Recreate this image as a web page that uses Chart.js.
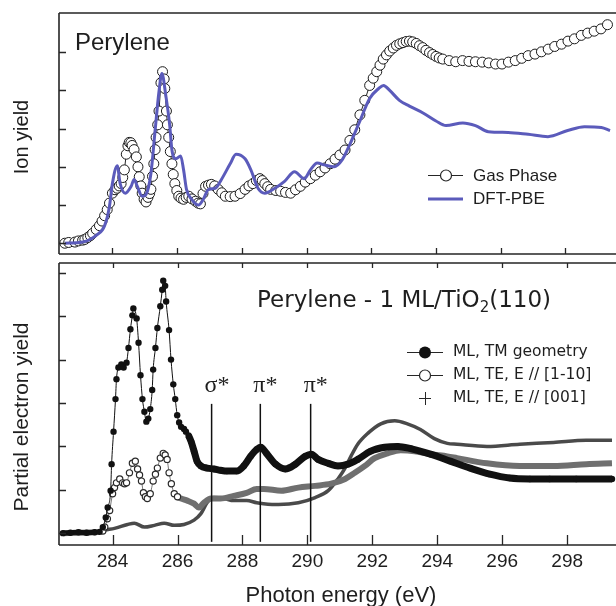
<!DOCTYPE html>
<html>
<head>
<meta charset="utf-8">
<script src="https://cdn.jsdelivr.net/npm/chart.js@4.4.1/dist/chart.umd.min.js"></script>
<style>
  html, body { margin: 0; padding: 0; background: #fff; }
  #wrap { position: relative; width: 616px; height: 606px; overflow: hidden; background: #fff; }
  #topChart { position: absolute; left: 0; top: 0; }
  #botChart { position: absolute; left: 0; top: 259px; }
</style>
</head>
<body>
<div id="wrap">
  <canvas id="topChart" width="640" height="260"></canvas>
  <canvas id="botChart" width="640" height="347"></canvas>
</div>
<script>
// 공통 축 눈금
const energyTicks = [284, 286, 288, 290, 292, 294, 296, 298];
const ionTicks = [0, 1, 2, 3, 4, 5];
const peyTicks = [0, 1, 2, 3, 4, 5, 6];

// 위 패널: 기체상 이온 수율
const gasEnergy = [282.53, 282.65, 282.84, 282.95, 283.08, 283.15, 283.24, 283.32, 283.39, 283.5, 283.6, 283.68, 283.76, 283.84, 283.91, 284.0, 284.08, 284.15, 284.21, 284.27, 284.32, 284.37, 284.43, 284.48, 284.52, 284.57, 284.61, 284.67, 284.74, 284.79, 284.83, 284.88, 284.92, 284.98, 285.04, 285.1, 285.15, 285.19, 285.24, 285.28, 285.32, 285.35, 285.4, 285.44, 285.5, 285.55, 285.6, 285.62, 285.67, 285.7, 285.74, 285.79, 285.84, 285.88, 285.93, 285.99, 286.05, 286.12, 286.2, 286.28, 286.36, 286.46, 286.57, 286.65, 286.72, 286.8, 286.88, 286.97, 287.06, 287.16, 287.27, 287.38, 287.49, 287.64, 287.79, 287.95, 288.1, 288.22, 288.34, 288.45, 288.56, 288.63, 288.71, 288.8, 288.89, 289.05, 289.2, 289.35, 289.51, 289.66, 289.81, 289.96, 290.12, 290.27, 290.42, 290.57, 290.73, 290.88, 291.03, 291.19, 291.34, 291.49, 291.65, 291.8, 291.95, 292.06, 292.17, 292.27, 292.37, 292.47, 292.57, 292.68, 292.78, 292.88, 292.98, 293.08, 293.18, 293.28, 293.39, 293.49, 293.59, 293.69, 293.8, 293.9, 294.0, 294.1, 294.21, 294.41, 294.61, 294.82, 295.02, 295.22, 295.43, 295.63, 295.84, 296.04, 296.24, 296.45, 296.65, 296.85, 297.06, 297.26, 297.47, 297.67, 297.88, 298.08, 298.28, 298.49, 298.69, 298.89, 299.1, 299.3];
const gasYield = [0, 0.02, 0.03, 0.06, 0.08, 0.1, 0.15, 0.2, 0.26, 0.36, 0.46, 0.58, 0.72, 0.88, 1.05, 1.31, 1.4, 1.44, 1.5, 1.56, 1.72, 1.92, 2.33, 2.55, 2.64, 2.63, 2.56, 2.45, 2.26, 2.0, 1.74, 1.5, 1.31, 1.15, 1.08, 1.2, 1.3, 1.41, 1.75, 2.08, 2.45, 2.77, 3.1, 3.46, 4.2, 4.49, 4.3, 4.05, 3.46, 3.1, 2.77, 2.4, 2.08, 1.8, 1.56, 1.38, 1.23, 1.18, 1.15, 1.2, 1.23, 1.16, 1.1, 1.05, 1.03, 1.3, 1.49, 1.52, 1.54, 1.5, 1.41, 1.32, 1.23, 1.22, 1.23, 1.3, 1.41, 1.5, 1.56, 1.64, 1.69, 1.64, 1.56, 1.48, 1.41, 1.38, 1.36, 1.33, 1.31, 1.4, 1.49, 1.6, 1.69, 1.78, 1.87, 1.97, 2.08, 2.2, 2.31, 2.44, 2.69, 2.97, 3.36, 3.74, 4.13, 4.32, 4.49, 4.66, 4.82, 4.93, 5.03, 5.11, 5.18, 5.22, 5.25, 5.28, 5.29, 5.27, 5.23, 5.17, 5.12, 5.05, 4.99, 4.94, 4.89, 4.85, 4.82, 4.78, 4.75, 4.78, 4.76, 4.75, 4.74, 4.72, 4.69, 4.69, 4.74, 4.78, 4.84, 4.91, 4.95, 5.01, 5.08, 5.15, 5.21, 5.29, 5.35, 5.44, 5.5, 5.55, 5.61, 5.72];

// 위 패널: DFT-PBE 계산
const dftEnergy = [282.53, 283.08, 283.51, 283.76, 283.91, 284.0, 284.15, 284.24, 284.4, 284.58, 284.67, 284.77, 284.92, 285.04, 285.19, 285.32, 285.44, 285.53, 285.65, 285.77, 285.84, 285.96, 286.11, 286.2, 286.29, 286.45, 286.66, 286.81, 286.97, 287.18, 287.37, 287.64, 287.82, 288.1, 288.28, 288.5, 288.71, 289.02, 289.32, 289.63, 289.93, 290.12, 290.33, 290.55, 290.85, 291.1, 291.34, 291.65, 291.95, 292.23, 292.38, 292.57, 292.87, 293.18, 293.6, 294.0, 294.31, 294.83, 295.22, 295.62, 296.23, 296.85, 297.46, 298.07, 298.59, 299.11, 299.38];
const dftYield = [0, 0.03, 0.21, 0.46, 0.97, 1.56, 2.03, 1.56, 1.31, 1.49, 1.67, 1.49, 1.23, 1.28, 1.82, 2.95, 3.97, 4.44, 3.87, 3.1, 2.44, 2.21, 2.28, 1.92, 1.41, 1.15, 1.0, 1.15, 1.41, 1.44, 1.67, 2.08, 2.33, 2.21, 1.92, 1.44, 1.31, 1.44, 1.62, 1.87, 1.69, 1.92, 2.1, 2.05, 2.0, 2.18, 2.59, 3.2, 3.79, 4.05, 4.13, 4.0, 3.74, 3.59, 3.41, 3.2, 3.08, 3.15, 3.08, 2.92, 2.9, 2.85, 2.79, 2.95, 3.05, 3.03, 2.95];

// 아래 패널: ML, TM geometry
const tmEnergy = [282.47, 282.7, 282.95, 283.2, 283.45, 283.6, 283.7, 283.79, 283.85, 283.94, 283.97, 284.03, 284.09, 284.12, 284.18, 284.27, 284.34, 284.43, 284.49, 284.55, 284.61, 284.64, 284.74, 284.8, 284.86, 284.92, 284.98, 285.04, 285.1, 285.16, 285.22, 285.25, 285.32, 285.38, 285.47, 285.53, 285.56, 285.62, 285.65, 285.74, 285.8, 285.87, 285.93, 285.99, 286.05, 286.11, 286.2, 286.26, 286.34, 286.42, 286.51, 286.6, 286.72, 286.91, 287.12, 287.32, 287.52, 287.82, 288.04, 288.25, 288.44, 288.56, 288.74, 289.02, 289.32, 289.63, 289.93, 290.12, 290.33, 290.64, 290.94, 291.25, 291.55, 291.95, 292.38, 292.78, 293.18, 293.79, 294.4, 295.01, 295.62, 296.23, 296.85, 297.46, 298.28, 299.38];
const tmYield = [0, 0.01, 0.02, 0.01, 0.02, 0.03, 0.14, 0.36, 0.59, 0.98, 1.59, 2.34, 3.09, 3.55, 3.82, 3.89, 3.82, 3.93, 4.27, 4.7, 5.02, 5.18, 4.95, 4.39, 3.64, 3.09, 2.8, 2.57, 2.64, 2.86, 3.3, 3.77, 4.27, 4.73, 5.23, 5.61, 5.82, 5.7, 5.34, 4.68, 4.0, 3.43, 3.09, 2.72, 2.55, 2.45, 2.4, 2.34, 2.25, 2.11, 1.89, 1.66, 1.55, 1.5, 1.48, 1.45, 1.43, 1.43, 1.55, 1.77, 1.93, 1.98, 1.84, 1.59, 1.48, 1.59, 1.77, 1.82, 1.7, 1.61, 1.55, 1.59, 1.7, 1.89, 1.98, 2.0, 1.95, 1.82, 1.66, 1.5, 1.36, 1.27, 1.25, 1.25, 1.25, 1.25];

// 아래 패널: ML, TE, E // [1-10]
const te110Energy = [282.47, 283.0, 283.5, 283.7, 283.76, 283.84, 283.91, 284.0, 284.06, 284.12, 284.22, 284.31, 284.37, 284.43, 284.52, 284.61, 284.7, 284.77, 284.83, 284.89, 284.95, 285.01, 285.07, 285.16, 285.25, 285.32, 285.38, 285.47, 285.56, 285.62, 285.68, 285.74, 285.81, 285.9, 286.0, 286.11, 286.3, 286.51, 286.66, 286.81, 287.03, 287.33, 287.73, 288.13, 288.44, 288.65, 289.2, 289.72, 290.24, 290.73, 291.16, 291.46, 291.77, 292.07, 292.47, 292.87, 293.3, 293.79, 294.31, 294.61, 295.53, 296.54, 297.58, 298.59, 299.38];
const te110Yield = [0, 0.01, 0.02, 0.05, 0.14, 0.33, 0.52, 0.91, 1.05, 1.16, 1.25, 1.16, 1.14, 1.16, 1.39, 1.61, 1.66, 1.48, 1.34, 1.2, 0.93, 0.84, 0.8, 0.91, 1.2, 1.36, 1.5, 1.73, 1.84, 1.8, 1.7, 1.39, 1.14, 0.91, 0.84, 0.8, 0.75, 0.68, 0.59, 0.7, 0.8, 0.8, 0.86, 0.93, 1.02, 1.02, 0.98, 1.05, 1.09, 1.14, 1.25, 1.39, 1.55, 1.73, 1.84, 1.91, 1.89, 1.82, 1.77, 1.73, 1.61, 1.55, 1.55, 1.59, 1.61];

// 아래 패널: ML, TE, E // [001]
const te001Energy = [282.47, 283.0, 283.5, 283.76, 284.06, 284.46, 284.67, 284.98, 285.29, 285.59, 285.9, 286.2, 286.51, 286.72, 286.91, 287.12, 287.43, 287.73, 288.13, 288.44, 288.65, 289.11, 289.72, 290.24, 290.64, 290.94, 291.16, 291.34, 291.55, 291.86, 292.26, 292.69, 293.08, 293.48, 293.91, 294.31, 294.61, 295.53, 296.54, 297.58, 298.59, 299.38];
const te001Yield = [0, 0.02, 0.02, 0.07, 0.11, 0.2, 0.23, 0.14, 0.18, 0.23, 0.18, 0.2, 0.3, 0.45, 0.7, 0.82, 0.8, 0.75, 0.75, 0.7, 0.68, 0.66, 0.7, 0.82, 0.98, 1.25, 1.5, 1.77, 2.05, 2.3, 2.52, 2.59, 2.52, 2.39, 2.18, 2.07, 2.05, 2.0, 2.05, 2.09, 2.14, 2.14];

// 공명 표시선
const resonanceEnergy = [287.05, 288.55, 290.1];
const resonanceLabels = ['σ*', 'π*', 'π*'];

const X_MIN = 282.35, X_MAX = 300.12;
const RES_BOTTOM = -0.2, RES_TOP = 2.98;
const INK = '#262626';
const DFT_BLUE = '#5b5bbb';

const toXY = (xs, ys) => xs.map((x, i) => ({ x, y: ys[i] }));

function text(ctx, str, x, y, font, align = 'left', baseline = 'alphabetic') {
  ctx.font = font;
  ctx.textAlign = align;
  ctx.textBaseline = baseline;
  ctx.fillText(str, x, y);
}

// 테두리 + 안쪽 눈금
function drawFrame(chart, opt) {
  const { ctx, chartArea: a, scales: { x, y } } = chart;
  ctx.save();
  ctx.strokeStyle = INK;
  ctx.lineWidth = 1.6;
  ctx.beginPath();
  ctx.moveTo(a.left, a.top); ctx.lineTo(a.right, a.top);
  ctx.moveTo(a.left, a.top); ctx.lineTo(a.left, a.bottom);
  ctx.moveTo(a.left, a.bottom); ctx.lineTo(a.right, a.bottom);
  ctx.stroke();

  ctx.lineWidth = 1.3;
  ctx.beginPath();
  opt.yTicks.forEach(v => {
    const py = Math.round(y.getPixelForValue(v)) + 0.5;
    ctx.moveTo(a.left, py); ctx.lineTo(a.left + 7, py);
  });
  energyTicks.forEach(v => {
    const px = Math.round(x.getPixelForValue(v)) + 0.5;
    if (opt.bottomTick) { ctx.moveTo(px, a.bottom); ctx.lineTo(px, a.bottom - opt.bottomTick); }
    if (opt.topTick) { ctx.moveTo(px, a.top); ctx.lineTo(px, a.top + opt.topTick); }
  });
  ctx.stroke();
  ctx.restore();
}

const topDecor = {
  id: 'topDecor',
  afterDraw(chart) {
    const { ctx } = chart;
    drawFrame(chart, { yTicks: ionTicks, bottomTick: 6 });
    ctx.save();
    ctx.fillStyle = '#1e1e1e';
    text(ctx, 'Perylene', 75, 50, '24px "Liberation Sans", Arial, sans-serif');

    // y축 제목
    ctx.save();
    ctx.translate(22, 137);
    ctx.rotate(-Math.PI / 2);
    text(ctx, 'Ion yield', 0, 0, '20px "Liberation Sans", Arial, sans-serif', 'center', 'middle');
    ctx.restore();

    // 범례
    ctx.strokeStyle = INK;
    ctx.lineWidth = 1.2;
    ctx.beginPath(); ctx.moveTo(428, 175.5); ctx.lineTo(463, 175.5); ctx.stroke();
    ctx.beginPath(); ctx.arc(446, 175.5, 5.5, 0, Math.PI * 2);
    ctx.fillStyle = '#fff'; ctx.fill(); ctx.stroke();
    ctx.strokeStyle = DFT_BLUE; ctx.lineWidth = 3;
    ctx.beginPath(); ctx.moveTo(428, 199); ctx.lineTo(463, 199); ctx.stroke();
    ctx.fillStyle = '#1e1e1e';
    text(ctx, 'Gas Phase', 473, 176, '17px "Liberation Sans", Arial, sans-serif', 'left', 'middle');
    text(ctx, 'DFT-PBE', 473, 199, '17px "Liberation Sans", Arial, sans-serif', 'left', 'middle');
    ctx.restore();
  }
};

const botDecor = {
  id: 'botDecor',
  afterDraw(chart) {
    const { ctx, scales: { x } } = chart;
    drawFrame(chart, { yTicks: peyTicks, bottomTick: 10, topTick: 5 });
    ctx.save();
    ctx.fillStyle = '#1e1e1e';

    // 제목 (TiO2 아래첨자)
    let tx = 257;
    const base = 48;
    const big = '23px "DejaVu Sans", sans-serif';
    text(ctx, 'Perylene - 1 ML/TiO', tx, base, big);
    tx += ctx.measureText('Perylene - 1 ML/TiO').width;
    text(ctx, '2', tx, base + 5, '15px "DejaVu Sans", sans-serif');
    tx += ctx.measureText('2').width;
    text(ctx, '(110)', tx, base, big);

    // 공명 라벨
    resonanceEnergy.forEach((e, i) => {
      const px = x.getPixelForValue(e);
      text(ctx, resonanceLabels[i], px - 7, 133, '24px "Liberation Serif", "Times New Roman", serif');
    });

    // x축 눈금 라벨, 제목
    energyTicks.forEach(v => {
      text(ctx, String(v), x.getPixelForValue(v), 303, '19px "Liberation Sans", Arial, sans-serif', 'center', 'middle');
    });
    text(ctx, 'Photon energy (eV)', 341, 337, '22px "Liberation Sans", Arial, sans-serif', 'center', 'middle');

    // y축 제목
    ctx.save();
    ctx.translate(22, 158);
    ctx.rotate(-Math.PI / 2);
    text(ctx, 'Partial electron yield', 0, 0, '21px "Liberation Sans", Arial, sans-serif', 'center', 'middle');
    ctx.restore();

    // 범례
    const rows = [93, 116, 139];
    ctx.strokeStyle = INK;
    ctx.lineWidth = 1.2;
    ctx.beginPath();
    ctx.moveTo(407, rows[0] + 0.5); ctx.lineTo(443, rows[0] + 0.5);
    ctx.moveTo(407, rows[1] + 0.5); ctx.lineTo(443, rows[1] + 0.5);
    ctx.stroke();
    ctx.fillStyle = '#111';
    ctx.beginPath(); ctx.arc(425, rows[0] + 0.5, 6, 0, Math.PI * 2); ctx.fill();
    ctx.fillStyle = '#fff';
    ctx.beginPath(); ctx.arc(425, rows[1] + 0.5, 5.5, 0, Math.PI * 2); ctx.fill(); ctx.stroke();
    ctx.lineWidth = 1;
    ctx.beginPath();
    ctx.moveTo(419, rows[2] + 0.5); ctx.lineTo(431, rows[2] + 0.5);
    ctx.moveTo(425.5, rows[2] - 6); ctx.lineTo(425.5, rows[2] + 7);
    ctx.stroke();
    ctx.fillStyle = '#1e1e1e';
    const lf = '15.5px "DejaVu Sans", sans-serif';
    text(ctx, 'ML, TM geometry', 453, rows[0], lf, 'left', 'middle');
    text(ctx, 'ML, TE, E // [1-10]', 453, rows[1], lf, 'left', 'middle');
    text(ctx, 'ML, TE, E // [001]', 453, rows[2], lf, 'left', 'middle');
    ctx.restore();
  }
};

const hiddenScales = (ymin, ymax) => ({
  x: { type: 'linear', min: X_MIN, max: X_MAX, display: false },
  y: { type: 'linear', min: ymin, max: ymax, display: false }
});

const baseOptions = {
  responsive: false,
  animation: false,
  events: [],
  plugins: { legend: { display: false }, tooltip: { enabled: false } }
};

new Chart(document.getElementById('topChart'), {
  type: 'line',
  data: {
    datasets: [
      {
        label: 'DFT-PBE',
        data: toXY(dftEnergy, dftYield),
        borderColor: DFT_BLUE,
        borderWidth: 3,
        pointRadius: 0,
        cubicInterpolationMode: 'monotone',
        order: 0
      },
      {
        label: 'Gas Phase',
        data: toXY(gasEnergy, gasYield),
        borderColor: INK,
        borderWidth: 1,
        pointRadius: 5,
        pointBorderWidth: 1,
        pointBackgroundColor: '#fff',
        pointBorderColor: '#1a1a1a',
        order: 1
      }
    ]
  },
  options: {
    ...baseOptions,
    layout: { padding: { left: 59, right: 0, top: 13, bottom: 1 } },
    scales: hiddenScales(-0.282, 6.026)
  },
  plugins: [topDecor]
});

const resonanceSets = resonanceEnergy.map(e => ({
  label: 'res',
  data: [{ x: e, y: RES_BOTTOM }, { x: e, y: RES_TOP }],
  borderColor: '#111',
  borderWidth: 1.5,
  pointRadius: 0,
  order: 0
}));

// TE [1-10] 원 마커 구간 (그 밖은 굵은 회색 선)
const inCircleRange = xv => xv > 283.6 && xv < 286.1;

new Chart(document.getElementById('botChart'), {
  type: 'line',
  data: {
    datasets: [
      ...resonanceSets,
      {
        label: 'ML, TM geometry',
        data: toXY(tmEnergy, tmYield),
        borderColor: '#111',
        borderWidth: 1,
        pointRadius: 3.2,
        pointBorderWidth: 0,
        pointBackgroundColor: '#111',
        cubicInterpolationMode: 'monotone',
        segment: {
          borderWidth: c => (c.p0.parsed.x >= 286.3 ? 7 : (c.p1.parsed.x <= 283.6 ? 5 : 1))
        },
        order: 1
      },
      {
        label: 'ML, TE, E // [1-10]',
        data: toXY(te110Energy, te110Yield),
        borderColor: '#555',
        borderWidth: 0.8,
        pointRadius: c => (c.raw && inCircleRange(c.raw.x) ? 3.1 : 0),
        pointBorderWidth: 1.2,
        pointBackgroundColor: '#fff',
        pointBorderColor: '#2a2a2a',
        cubicInterpolationMode: 'monotone',
        segment: {
          borderWidth: c => (c.p0.parsed.x >= 286.0 || c.p1.parsed.x <= 283.6 ? 6 : 0.8),
          borderColor: c => (c.p0.parsed.x >= 286.0 || c.p1.parsed.x <= 283.6 ? '#6f6f6f' : '#555')
        },
        order: 2
      },
      {
        label: 'ML, TE, E // [001]',
        data: toXY(te001Energy, te001Yield),
        borderColor: '#4a4a4a',
        borderWidth: 3.5,
        pointRadius: 0,
        cubicInterpolationMode: 'monotone',
        order: 3
      }
    ]
  },
  options: {
    ...baseOptions,
    layout: { padding: { left: 59, right: 0, top: 0, bottom: 61 } },
    scales: hiddenScales(-0.273, 6.227)
  },
  plugins: [botDecor]
});
</script>
</body>
</html>
